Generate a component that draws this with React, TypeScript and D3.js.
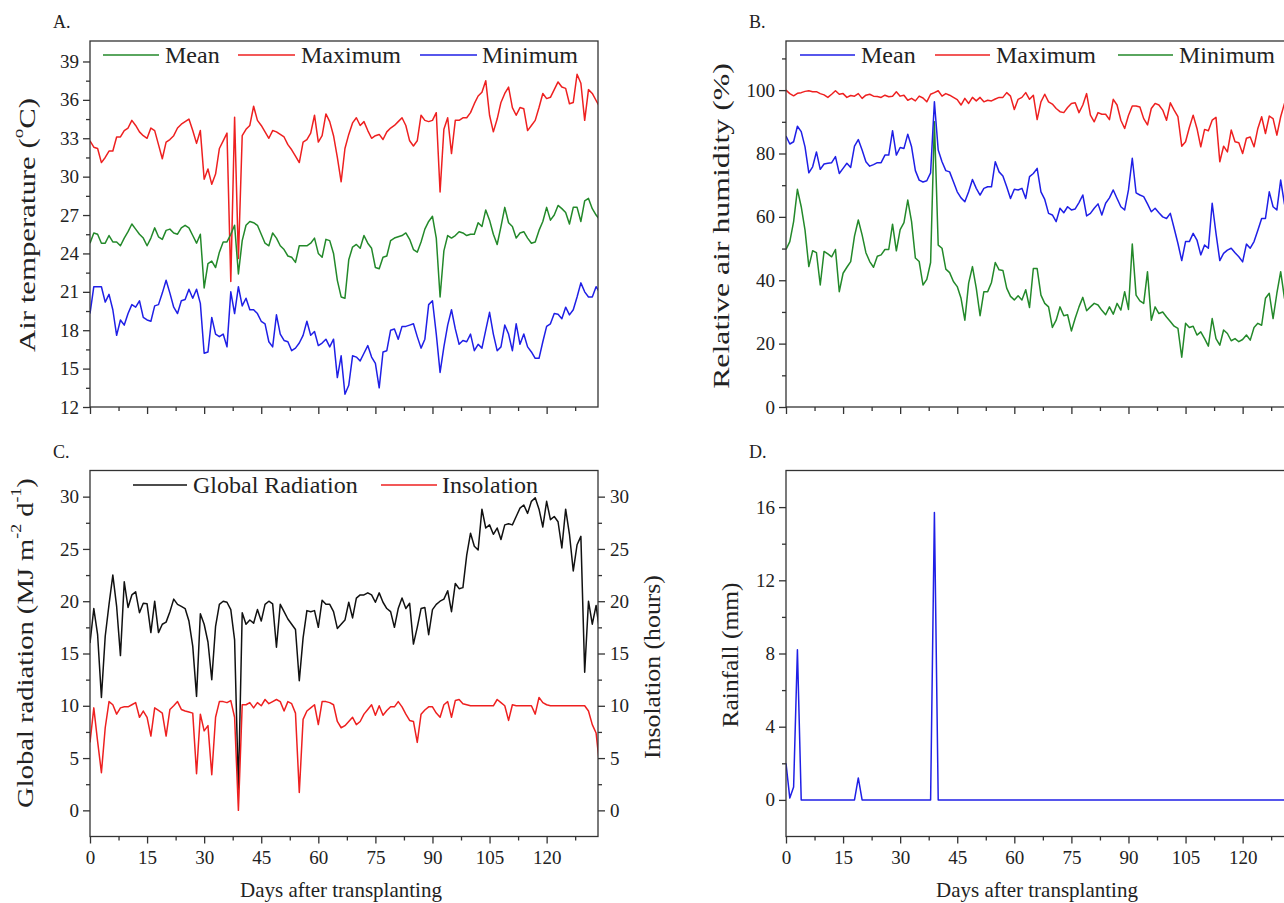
import React, { useEffect, useRef } from "react";
import * as d3 from "d3";

// daily values, index = days after transplanting
const tempMean = [
  24.8, 25.6, 25.5, 24.8, 24.8, 25.4, 24.9, 24.9, 24.6, 25.2,
  25.7, 26.3, 25.9, 25.5, 25.2, 24.6, 25.2, 26.0, 25.3, 25.1,
  25.8, 25.9, 25.6, 25.5, 26.0, 26.2, 26.0, 25.4, 24.8, 25.5,
  21.3, 23.2, 23.4, 22.9, 24.1, 24.9, 24.9, 25.5, 26.2, 22.4,
  25.0, 26.2, 26.5, 26.4, 26.2, 25.5, 24.8, 24.6, 25.6, 25.2,
  24.6, 24.3, 23.8, 23.7, 23.3, 24.6, 24.6, 24.6, 24.8, 25.2,
  24.0, 23.7, 25.1, 25.0, 24.0, 21.9, 20.6, 20.5, 23.5, 24.5,
  24.7, 24.4, 25.4, 24.8, 24.4, 22.9, 22.8, 23.7, 23.8, 25.0,
  25.2, 25.3, 25.4, 25.6, 25.1, 24.3, 24.1, 24.9, 25.9, 26.5,
  26.9, 25.2, 20.6, 24.2, 25.4, 25.2, 25.4, 25.7, 25.6, 25.4,
  25.5, 25.5, 26.4, 26.1, 27.4, 26.6, 25.5, 24.7, 26.1, 27.6,
  26.4, 26.1, 25.2, 25.6, 25.7, 25.2, 24.8, 24.9, 25.8, 26.5,
  27.6, 26.6, 27.0, 27.75, 27.5, 27.2, 26.3, 27.6, 27.6, 26.5,
  28.1, 28.3, 27.5, 27.0, 26.6,
];
const tempMax = [
  32.8, 32.3, 32.2, 31.1, 31.5, 32.0, 32.0, 33.1, 33.1, 33.6,
  33.8, 34.4, 34.0, 33.5, 33.2, 33.0, 33.8, 33.6, 32.5, 31.4,
  32.7, 32.9, 33.2, 33.8, 34.1, 34.3, 34.5, 33.6, 32.6, 33.6,
  29.8, 30.6, 29.4, 30.2, 32.2, 32.8, 33.4, 21.8, 34.65, 23.6,
  33.2, 33.7, 34.0, 35.5, 34.4, 34.0, 33.5, 33.0, 33.6, 33.5,
  33.3, 33.1, 32.5, 32.1, 31.6, 31.1, 32.7, 32.9, 33.4, 34.8,
  32.7, 33.2, 34.9, 34.3, 33.2, 31.5, 29.6, 32.2, 33.3, 34.2,
  34.6, 34.0, 34.3, 33.6, 33.0, 33.2, 33.3, 32.9, 33.5, 33.8,
  34.0, 34.3, 34.6, 34.0, 32.8, 32.4, 32.8, 34.8, 34.4, 34.3,
  34.4, 35.0, 28.8, 33.7, 34.6, 31.8, 34.4, 34.4, 34.6, 34.6,
  35.0, 35.7, 36.3, 36.6, 37.5, 34.8, 33.5, 34.5, 35.8, 36.5,
  37.0, 35.4, 34.8, 35.4, 35.3, 33.6, 34.0, 34.4, 35.4, 36.5,
  36.1, 36.2, 36.8, 37.4, 37.0, 36.9, 35.7, 35.8, 38.0, 37.3,
  34.4, 36.8, 36.5, 35.95, 35.4,
];
const tempMin = [
  19.3, 21.4, 21.4, 21.4, 20.2, 20.8, 19.6, 17.6, 18.8, 18.4,
  19.3, 20.0, 19.8, 20.3, 19.0, 18.8, 18.7, 19.9, 20.0, 20.9,
  21.9, 20.9, 19.8, 19.3, 20.3, 20.4, 21.2, 20.5, 21.2, 20.1,
  16.2, 16.3, 19.0, 17.7, 17.5, 17.7, 16.7, 21.0, 19.3, 21.4,
  19.9, 20.5, 19.6, 19.6, 19.3, 18.7, 18.5, 17.1, 16.7, 19.2,
  17.7, 17.2, 17.1, 16.4, 16.6, 17.0, 17.6, 18.7, 17.6, 17.9,
  16.8, 17.0, 17.3, 16.7, 17.3, 14.3, 16.0, 13.0, 13.7, 16.0,
  15.9, 15.6, 16.2, 16.8, 15.9, 15.4, 13.5, 16.3, 16.4, 18.0,
  18.1, 17.3, 18.3, 18.3, 18.4, 18.5, 17.5, 16.6, 17.3, 20.0,
  20.3, 17.7, 14.7, 16.7, 18.4, 19.6, 18.1, 16.9, 17.2, 17.1,
  17.7, 16.4, 16.9, 16.6, 18.0, 19.4, 17.7, 16.4, 16.7, 18.4,
  17.7, 16.4, 18.5, 16.9, 17.7, 16.7, 16.3, 15.8, 15.8, 17.1,
  18.3, 18.5, 19.3, 19.25, 18.9, 19.8, 19.2, 19.6, 20.6, 21.7,
  21.0, 20.6, 20.6, 21.4, 20.9,
];

const humMean = [
  85.5, 83.0, 83.7, 88.6, 86.9, 82.1, 73.9, 75.8, 80.5, 75.0,
  76.7, 76.9, 77.1, 79.0, 73.7, 75.3, 76.9, 75.6, 82.3, 84.4,
  81.1, 77.4, 76.0, 76.5, 77.1, 77.1, 79.5, 79.5, 87.2, 79.5,
  81.9, 81.6, 86.1, 82.1, 74.6, 71.6, 71.0, 71.4, 73.9, 96.3,
  81.1, 77.4, 74.6, 74.2, 71.1, 67.9, 66.0, 64.8, 67.9, 71.8,
  69.0, 66.9, 69.0, 69.5, 69.5, 77.4, 74.2, 72.9, 69.5, 65.8,
  68.7, 68.5, 69.0, 65.8, 72.7, 73.7, 75.3, 67.9, 65.5, 61.1,
  60.6, 58.5, 62.7, 61.3, 63.2, 62.2, 62.5, 64.5, 66.9, 60.3,
  61.1, 62.7, 64.1, 60.6, 64.3, 66.0, 68.5, 65.8, 63.2, 62.2,
  68.5, 78.5, 67.6, 66.9, 66.4, 64.1, 61.6, 62.7, 61.3, 60.0,
  59.5, 61.1, 56.4, 51.6, 46.2, 52.2, 52.2, 54.8, 52.7, 48.0,
  51.1, 50.1, 64.3, 54.8, 46.2, 48.5, 49.5, 50.1, 48.7, 47.4,
  45.8, 51.4, 50.1, 52.2, 55.8, 59.5, 59.5, 67.9, 63.2, 62.2,
  71.6, 64.0, 62.5,
];
const humMax = [
  100, 98.9, 98.2, 99.0, 99.2, 99.6, 99.8, 99.5, 99.5, 98.9,
  98.5, 97.7, 98.7, 99.8, 98.7, 98.9, 97.7, 98.3, 98.1, 98.9,
  97.4, 98.4, 98.7, 98.1, 98.0, 97.7, 98.4, 97.9, 98.1, 99.5,
  98.1, 98.4, 96.8, 97.4, 96.6, 98.1, 97.5, 96.3, 98.7, 99.2,
  99.8, 98.1, 98.9, 98.4, 97.7, 97.0, 95.3, 97.4, 95.8, 97.7,
  96.6, 97.7, 96.3, 96.8, 96.6, 97.2, 97.7, 97.7, 99.2, 98.1,
  93.9, 97.1, 97.7, 99.2, 97.1, 98.4, 90.7, 96.3, 98.7, 96.3,
  95.6, 94.2, 93.2, 92.9, 94.5, 95.8, 96.0, 92.9, 95.3, 98.9,
  92.1, 90.0, 92.9, 92.4, 92.4, 90.7, 97.1, 95.3, 90.5, 87.9,
  92.0, 95.0, 95.0, 94.7, 91.0, 89.0, 94.2, 95.8, 95.3, 93.7,
  90.5, 96.0, 93.7, 91.6, 82.3, 83.7, 88.2, 92.1, 87.9, 82.1,
  87.6, 87.2, 90.5, 91.4, 77.4, 82.3, 80.5, 87.4, 83.7, 83.4,
  80.0, 84.8, 85.2, 82.1, 87.9, 91.6, 86.3, 91.8, 91.0, 85.8,
  91.6, 95.8, 96.8,
];
const humMin = [
  49.7, 52.2, 58.5, 68.7, 63.2, 55.8, 44.3, 49.3, 48.7, 38.5,
  49.1, 48.3, 47.4, 49.7, 36.4, 42.2, 44.1, 45.9, 53.9, 59.0,
  54.3, 48.7, 45.9, 44.1, 47.6, 48.0, 49.7, 49.7, 57.7, 49.3,
  56.0, 58.2, 65.3, 58.5, 47.0, 45.9, 38.5, 40.3, 45.6, 90.0,
  51.1, 50.1, 43.5, 42.4, 39.6, 38.0, 34.3, 27.4, 39.1, 44.3,
  37.5, 28.8, 36.4, 36.4, 39.3, 45.6, 43.3, 43.1, 37.5, 34.9,
  33.8, 35.1, 33.8, 37.0, 31.4, 43.7, 43.7, 35.3, 32.7, 31.6,
  25.1, 27.4, 31.6, 28.8, 29.1, 24.0, 28.0, 31.6, 34.6, 30.4,
  31.6, 32.7, 32.2, 30.5, 29.1, 31.6, 29.3, 32.7, 30.6, 36.4,
  30.8, 51.4, 35.3, 33.5, 32.7, 42.7, 27.4, 31.6, 29.5, 30.0,
  28.4, 27.0, 25.5, 24.8, 15.7, 26.4, 25.1, 25.5, 22.7, 23.7,
  21.6, 19.2, 27.9, 21.6, 19.5, 24.3, 23.2, 20.9, 21.6, 20.6,
  21.3, 22.7, 21.1, 25.1, 26.4, 25.8, 34.3, 35.9, 27.9, 35.9,
  42.7, 34.3, 32.7,
];

const globalRad = [
  16.0, 19.3, 16.8, 10.8, 16.65, 19.7, 22.5, 19.5, 14.8, 21.85,
  19.4, 20.6, 20.9, 18.9, 19.8, 19.75, 17.0, 20.0, 17.0, 17.8,
  18.0, 19.0, 20.2, 19.7, 19.5, 19.3, 18.1, 15.7, 10.9, 18.8,
  17.8, 16.1, 12.5, 17.6, 19.7, 20.0, 19.9, 19.2, 16.3, 2.0,
  18.9, 17.8, 18.2, 17.9, 19.2, 18.1, 19.7, 20.0, 19.75, 15.6,
  19.7, 19.0, 18.3, 17.8, 17.3, 12.4, 16.5, 19.1, 19.0, 19.1,
  17.5, 20.1, 19.7, 19.7, 19.0, 17.4, 17.8, 18.2, 19.9, 18.4,
  20.3, 20.6, 20.6, 20.8, 20.6, 19.9, 20.8, 19.9, 19.3, 19.0,
  17.5, 19.3, 20.3, 19.3, 19.8, 15.9, 17.5, 19.3, 19.4, 16.8,
  19.2, 19.7, 20.0, 20.2, 21.0, 19.0, 21.7, 21.2, 21.3, 24.4,
  26.5, 25.25, 24.9, 28.8, 27.0, 27.3, 26.4, 27.0, 25.9, 27.3,
  27.4, 27.3, 28.1, 28.9, 29.2, 28.4, 29.55, 29.9, 28.8, 27.1,
  29.55, 27.8, 28.1, 27.6, 25.1, 28.8, 26.4, 22.9, 25.4, 26.2,
  13.2, 20.0, 17.8, 19.6, 16.9,
];
const insolation = [
  6.5, 9.8, 6.6, 3.6, 7.9, 10.4, 10.1, 9.2, 9.8, 9.9,
  9.9, 10.1, 10.3, 8.9, 9.5, 8.9, 7.1, 9.8, 9.55, 9.3,
  7.1, 9.65, 10.0, 10.4, 9.65, 9.5, 9.4, 9.3, 3.5, 9.2,
  7.6, 8.1, 3.4, 8.9, 10.4, 10.4, 10.3, 10.5, 8.9, 0,
  10.1, 10.1, 10.3, 9.8, 10.3, 10.0, 10.6, 10.2, 10.4, 10.6,
  10.4, 9.5, 10.4, 10.2, 9.3, 1.7, 8.7, 9.5, 9.8, 10.1,
  8.2, 10.4, 10.4, 10.3, 10.1, 8.5, 7.9, 8.1, 8.5, 8.9,
  8.2, 8.5, 9.2, 9.65, 10.1, 9.1, 10.0, 9.1, 9.55, 9.9,
  9.9, 10.4, 9.9, 9.2, 8.6, 8.5, 6.5, 9.2, 9.6, 9.9,
  9.9, 9.3, 8.9, 10.1, 10.4, 8.9, 10.5, 10.6, 10.2, 10.1,
  10.0, 10.0, 10.0, 10.0, 10.0, 10.0, 10.0, 10.6, 10.3, 10.0,
  8.6, 10.1, 10.0, 10.0, 10.0, 10.0, 10.0, 9.2, 10.8, 10.3,
  10.1, 10.0, 10.0, 10.0, 10.0, 10.0, 10.0, 10.0, 10.0, 10.0,
  10.0, 9.5, 8.2, 7.4, 4.0,
];
const rainfall = [
  2.0, 0.1, 0.7, 8.2, 0, 0, 0, 0, 0, 0,
  0, 0, 0, 0, 0, 0, 0, 0, 0, 1.2,
  0, 0, 0, 0, 0, 0, 0, 0, 0, 0,
  0, 0, 0, 0, 0, 0, 0, 0, 0, 15.7,
  0, 0, 0, 0, 0, 0, 0, 0, 0, 0,
  0, 0, 0, 0, 0, 0, 0, 0, 0, 0,
  0, 0, 0, 0, 0, 0, 0, 0, 0, 0,
  0, 0, 0, 0, 0, 0, 0, 0, 0, 0,
  0, 0, 0, 0, 0, 0, 0, 0, 0, 0,
  0, 0, 0, 0, 0, 0, 0, 0, 0, 0,
  0, 0, 0, 0, 0, 0, 0, 0, 0, 0,
  0, 0, 0, 0, 0, 0, 0, 0, 0, 0,
  0, 0, 0, 0, 0, 0, 0, 0, 0, 0,
  0, 0, 0, 0, 0,
];

const xMajor = [0, 15, 30, 45, 60, 75, 90, 105, 120];
const xMinor = [7.5, 22.5, 37.5, 52.5, 67.5, 82.5, 97.5, 112.5, 127.5];
const tempTicks = [12, 15, 18, 21, 24, 27, 30, 33, 36, 39];
const tempMinor = [13.5, 16.5, 19.5, 22.5, 25.5, 28.5, 31.5, 34.5, 37.5];
const humTicks = [0, 20, 40, 60, 80, 100];
const humMinor = [10, 30, 50, 70, 90, 110];
const radTicks = [0, 5, 10, 15, 20, 25, 30];
const radMinor = [2.5, 7.5, 12.5, 17.5, 22.5, 27.5];
const rainTicks = [0, 4, 8, 12, 16];
const rainMinor = [2, 6, 10, 14];

const FONT = '"Liberation Serif", "Times New Roman", serif';
const RED = "#ee2020";
const GREEN = "#23892a";
const BLUE = "#1f1fe6";
const AXIS = "#333";

type Sel = d3.Selection<SVGSVGElement, unknown, null, undefined>;

function drawPanel(svg: Sel, o: any) {
  const { id, left, top, width, height } = o;
  const x = d3.scaleLinear().domain([0, 133.5]).range([left, left + width]);
  const y = d3.scaleLinear().domain(o.yDomain).range([top + height, top]);
  const g = svg.append("g");

  g.append("clipPath")
    .attr("id", `clip-${id}`)
    .append("rect")
    .attr("x", left)
    .attr("y", top)
    .attr("width", width)
    .attr("height", height);

  const styleAxis = (a: any) => {
    a.select(".domain").remove();
    a.selectAll("line").attr("stroke", AXIS).attr("stroke-width", 1.3);
    a.selectAll("text")
      .attr("font-family", FONT)
      .attr("font-size", 19)
      .attr("fill", "#222");
  };

  // y axis
  g.append("g")
    .attr("transform", `translate(${left},0)`)
    .call(d3.axisLeft(y).tickValues(o.yMajor).tickSize(7).tickPadding(4).tickFormat(d3.format("d")) as any)
    .call(styleAxis);
  g.append("g")
    .attr("transform", `translate(${left},0)`)
    .call(d3.axisLeft(y).tickValues(o.yMinor).tickSize(4).tickFormat(() => "") as any)
    .call(styleAxis);

  if (o.right) {
    g.append("g")
      .attr("transform", `translate(${left + width},0)`)
      .call(d3.axisRight(y).tickValues(o.yMajor).tickSize(7).tickPadding(5).tickFormat(d3.format("d")) as any)
      .call(styleAxis);
    g.append("g")
      .attr("transform", `translate(${left + width},0)`)
      .call(d3.axisRight(y).tickValues(o.yMinor).tickSize(4).tickFormat(() => "") as any)
      .call(styleAxis);
  }

  // x axis
  g.append("g")
    .attr("transform", `translate(0,${top + height})`)
    .call(
      d3.axisBottom(x).tickValues(xMajor).tickSize(7).tickPadding(7)
        .tickFormat(o.xLabels ? d3.format("d") : () => "") as any
    )
    .call(styleAxis);
  g.append("g")
    .attr("transform", `translate(0,${top + height})`)
    .call(d3.axisBottom(x).tickValues(xMinor).tickSize(4).tickFormat(() => "") as any)
    .call(styleAxis);

  // data
  const plot = g.append("g").attr("clip-path", `url(#clip-${id})`);
  const line = d3
    .line<number>()
    .x((_, i) => x(i))
    .y((v) => y(v));
  o.series.forEach((s: any) => {
    plot
      .append("path")
      .datum(s.values)
      .attr("d", line)
      .attr("fill", "none")
      .attr("stroke", s.color)
      .attr("stroke-width", 1.5)
      .attr("stroke-linejoin", "round");
  });

  // frame
  g.append("rect")
    .attr("x", left)
    .attr("y", top)
    .attr("width", width)
    .attr("height", height)
    .attr("fill", "none")
    .attr("stroke", AXIS)
    .attr("stroke-width", 1.3);

  // letter
  g.append("text")
    .attr("x", left - 37)
    .attr("y", top - 13)
    .attr("font-family", FONT)
    .attr("font-size", 18)
    .attr("fill", "#222")
    .text(o.letter);

  // legend
  o.legend.forEach((l: any) => {
    g.append("line")
      .attr("x1", l.x0)
      .attr("x2", l.x1)
      .attr("y1", o.legendY)
      .attr("y2", o.legendY)
      .attr("stroke", l.color)
      .attr("stroke-width", 1.5);
    g.append("text")
      .attr("x", l.tx)
      .attr("y", o.legendY + 8)
      .attr("font-family", FONT)
      .attr("font-size", 24)
      .attr("fill", "#222")
      .text(l.label);
  });
}

// vertical axis title, stretched along its direction to the length seen in the figure
function vTitle(svg: Sel, cx: number, cy: number, len: number, parts: [string, string?][], size = 24) {
  const t = svg
    .append("text")
    .attr("text-anchor", "middle")
    .attr("dominant-baseline", "central")
    .attr("font-family", FONT)
    .attr("font-size", size)
    .attr("fill", "#222");
  parts.forEach(([txt, kind]) => {
    const ts = t.append("tspan").text(txt);
    if (kind === "sup") ts.attr("baseline-shift", "super").attr("font-size", size * 0.62);
  });
  const natural = (t.node() as SVGTextElement).getComputedTextLength() || len;
  const k = len / natural;
  t.attr("transform", `translate(${cx},${cy}) rotate(-90) scale(${k},1)`);
}

export default function App() {
  const svgRef = useRef<SVGSVGElement>(null);

  useEffect(() => {
    const svg = d3.select(svgRef.current!) as Sel;
    svg.selectAll("*").remove();

    drawPanel(svg, {
      id: "a", left: 90, top: 41, width: 508, height: 366,
      yDomain: [12, 40.6], yMajor: tempTicks, yMinor: tempMinor,
      series: [
        { values: tempMax, color: RED },
        { values: tempMean, color: GREEN },
        { values: tempMin, color: BLUE },
      ],
      letter: "A.", xLabels: false, legendY: 55,
      legend: [
        { label: "Mean", color: GREEN, x0: 103, x1: 159, tx: 165 },
        { label: "Maximum", color: RED, x0: 238, x1: 295, tx: 301 },
        { label: "Minimum", color: BLUE, x0: 420, x1: 477, tx: 482 },
      ],
    });

    drawPanel(svg, {
      id: "b", left: 786, top: 41, width: 508, height: 366,
      yDomain: [0, 115.5], yMajor: humTicks, yMinor: humMinor,
      series: [
        { values: humMax, color: RED },
        { values: humMin, color: GREEN },
        { values: humMean, color: BLUE },
      ],
      letter: "B.", xLabels: false, legendY: 55,
      legend: [
        { label: "Mean", color: BLUE, x0: 800, x1: 855, tx: 861 },
        { label: "Maximum", color: RED, x0: 935, x1: 990, tx: 996 },
        { label: "Minimum", color: GREEN, x0: 1118, x1: 1173, tx: 1179 },
      ],
    });

    drawPanel(svg, {
      id: "c", left: 90, top: 470.5, width: 508, height: 366,
      yDomain: [-2.5, 32.5], yMajor: radTicks, yMinor: radMinor,
      right: true,
      series: [
        { values: globalRad, color: "#111" },
        { values: insolation, color: RED },
      ],
      letter: "C.", xLabels: true, legendY: 485,
      legend: [
        { label: "Global Radiation", color: "#111", x0: 133, x1: 187, tx: 193 },
        { label: "Insolation", color: RED, x0: 381, x1: 437, tx: 442 },
      ],
    });

    drawPanel(svg, {
      id: "d", left: 786, top: 470.5, width: 508, height: 366,
      yDomain: [-2, 18], yMajor: rainTicks, yMinor: rainMinor,
      series: [{ values: rainfall, color: BLUE }],
      letter: "D.", xLabels: true, legendY: 485, legend: [],
    });

    vTitle(svg, 26, 225, 254, [["Air temperature ("], ["o", "sup"], ["C)"]]);
    vTitle(svg, 720, 226, 326, [["Relative air humidity (%)"]]);
    vTitle(svg, 25, 643, 330, [["Global radiation (MJ m"], ["-2", "sup"], [" d"], ["-1", "sup"], [")"]]);
    vTitle(svg, 651, 667, 184, [["Insolation (hours)"]]);
    vTitle(svg, 729, 655, 145, [["Rainfall (mm)"]]);

    [[341, "Days after transplanting"], [1037, "Days after transplanting"]].forEach(([cx, txt]) => {
      svg
        .append("text")
        .attr("x", cx as number)
        .attr("y", 897)
        .attr("text-anchor", "middle")
        .attr("font-family", FONT)
        .attr("font-size", 21)
        .attr("fill", "#222")
        .text(txt as string);
    });
  }, []);

  return (
    <svg
      ref={svgRef}
      width={1284}
      height={903}
      style={{ position: "absolute", left: 0, top: 0, background: "#fff", overflow: "hidden" }}
    />
  );
}
